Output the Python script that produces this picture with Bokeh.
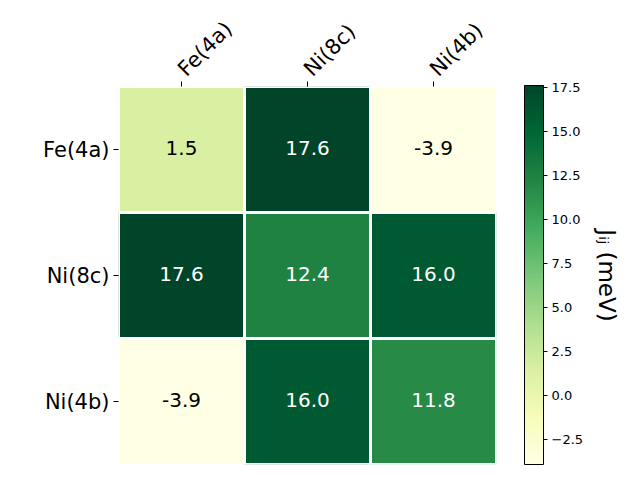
import math
from bokeh.plotting import figure
from bokeh.models import (ColumnDataSource, LinearColorMapper, ColorBar, FixedTicker, Title)
from bokeh.core.properties import value
from bokeh.transform import transform
from bokeh.palettes import YlGn9
from bokeh.embed import file_html
from bokeh.resources import INLINE

sites = ["Fe(4a)", "Ni(8c)", "Ni(4b)"]
row_fe4a = [1.5, 17.6, -3.9]
row_ni8c = [17.6, 12.4, 16.0]
row_ni4b = [-3.9, 16.0, 11.8]
cbar_ticks = [-2.5, 0.0, 2.5, 5.0, 7.5, 10.0, 12.5, 15.0, 17.5]

matrix = [row_fe4a, row_ni8c, row_ni4b]
vmin = min(min(r) for r in matrix)
vmax = max(max(r) for r in matrix)

# continuous YlGn palette (light -> dark) interpolated from the 9 brewer colors
base = list(reversed(YlGn9))
def hex2rgb(h):
    h = h.lstrip("#")
    return tuple(int(h[i:i + 2], 16) for i in (0, 2, 4))
rgbs = [hex2rgb(c) for c in base]
palette = []
N = 256
for k in range(N):
    t = k / (N - 1) * (len(rgbs) - 1)
    i = min(int(t), len(rgbs) - 2)
    f = t - i
    c = tuple(round(rgbs[i][j] + (rgbs[i + 1][j] - rgbs[i][j]) * f) for j in range(3))
    palette.append("#%02x%02x%02x" % c)

mapper = LinearColorMapper(palette=palette, low=vmin, high=vmax)

xs, ys, vals, labels, tcols = [], [], [], [], []
mid = (vmin + vmax) / 2
for r, row in zip(sites, matrix):
    for c, v in zip(sites, row):
        xs.append(c)
        ys.append(r)
        vals.append(v)
        labels.append("%.1f" % v)
        tcols.append("white" if v > mid else "black")
src = ColumnDataSource(dict(x=xs, y=ys, v=vals, label=labels, tc=tcols))

p = figure(x_range=sites, y_range=list(reversed(sites)),
           frame_width=378, frame_height=378,
           x_axis_location="above",
           output_backend="svg", toolbar_location=None,
           min_border_left=118, min_border_top=86, min_border_bottom=8,
           min_border_right=0)
p.rect(x="x", y="y", width=1, height=1, source=src,
       fill_color=transform("v", mapper), line_color="white", line_width=3)
p.text(x="x", y="y", text="label", source=src, text_color="tc",
       text_align="center", text_baseline="middle", y_offset=-2,
       text_font=value("DejaVu Sans"), text_font_size="20px")

p.grid.visible = False
p.outline_line_color = None
for ax in (p.xaxis[0], p.yaxis[0]):
    ax.axis_line_color = None
    ax.major_tick_in = 0
    ax.major_tick_out = 5
    ax.major_tick_line_color = "black"
    ax.major_label_text_font = "DejaVu Sans"
    ax.major_label_text_font_size = "21px"
    ax.major_label_text_color = "black"
    ax.major_label_standoff = 4
p.xaxis.major_label_orientation = math.pi / 4
p.xaxis.major_label_standoff = 9

overrides = {t: ("%.1f" % t).replace("-", "\u2212") for t in cbar_ticks}
cb = ColorBar(color_mapper=mapper, ticker=FixedTicker(ticks=cbar_ticks),
              major_label_overrides=overrides,
              width=19, height=379, padding=0, margin=0, location=(28, 0),
              bar_line_color="black", bar_line_width=1,
              major_tick_in=0, major_tick_out=4, major_tick_line_color="black",
              minor_tick_line_color=None,
              major_label_text_font="DejaVu Sans",
              major_label_text_font_size="13px",
              major_label_text_color="black",
              label_standoff=4, border_line_color=None,
              background_fill_color=None)
p.add_layout(cb, "right")
p.add_layout(Title(text="J\u1d62\u2c7c (meV)", align="center",
                   text_font="DejaVu Sans", text_font_size="23px",
                   text_color="black",
                   text_font_style="normal", standoff=14), "right")

open("out.html", "w").write(file_html(p, INLINE))
